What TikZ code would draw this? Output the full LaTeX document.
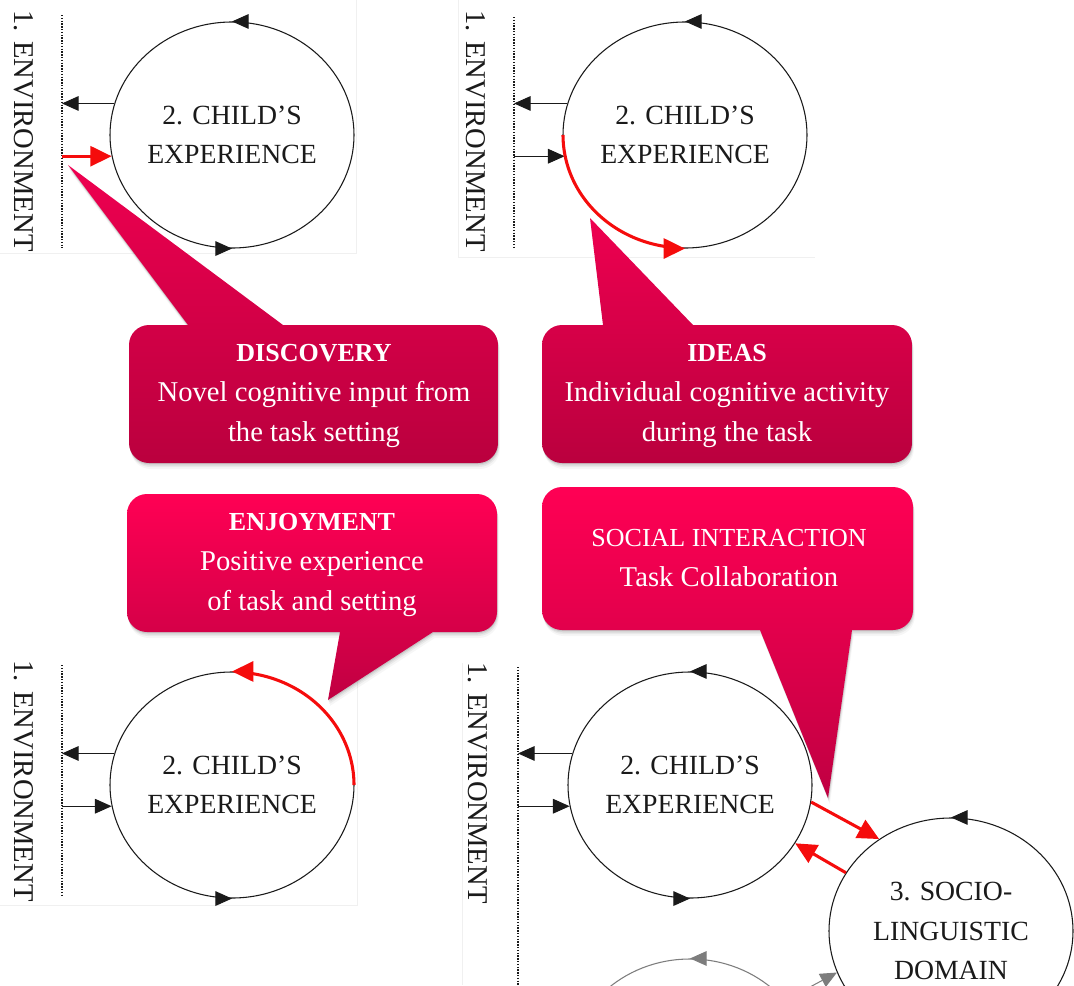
\documentclass[tikz,border=0pt]{standalone}
\usepackage{fontspec}
\setmainfont{Liberation Serif}
\usetikzlibrary{arrows.meta,shapes.geometric,calc}

\definecolor{ink}{RGB}{26,26,26}
\definecolor{hot}{RGB}{245,12,12}
\definecolor{fadeink}{RGB}{125,125,125}
\definecolor{plumtop}{RGB}{238,0,80}
\definecolor{plumbot}{RGB}{186,0,62}
\definecolor{rosetop}{RGB}{255,0,84}
\definecolor{rosebot}{RGB}{192,0,66}

% speech bubble outline: tail triangle plus rounded box
\newcommand\bubblepath[9]{(#5,#7) -- (#8,#9) -- (#6,#7) -- cycle [rounded corners=15pt] (#1,#2) rectangle (#3,#4)}
% soft shadow, then the shaded bubble
\newcommand\callout[9]{%
  \foreach \d/\o in {6/0.035,4/0.05,2.5/0.07,1.2/0.09}{%
    \fill[black,opacity=\o,shift={(0.3*\d,\d)}] \bubblepath{#1}{#2}{#3}{#4}{#5}{#6}{#7}{#8}{#9};}%
  \shade[bubble fill] \bubblepath{#1}{#2}{#3}{#4}{#5}{#6}{#7}{#8}{#9};}
\newcommand\bubblehead{\fontsize{19.5}{30}\selectfont\bfseries}

\tikzset{
  loop/.style={draw=ink, line width=0.8pt, ellipse, minimum width=183pt,
    minimum height=169.5pt, inner sep=0pt, align=center, text=ink,
    font=\fontsize{20.8}{29.3}\selectfont},
  ghostloop/.style={loop, draw=fadeink},
  envtext/.style={rotate=-90, text=ink, font=\fontsize{21.5}{26}\selectfont},
  envline/.style={draw=ink, line width=1pt, dash pattern=on 1pt off 1.1pt},
  blk/.style={draw=ink, line width=0.75pt, -{Triangle[length=12.5pt,width=11pt]}},
  ghost/.style={draw=fadeink, line width=0.75pt, -{Triangle[length=12.5pt,width=11pt]}, fill=fadeink},
  hotline/.style={draw=hot, line width=2.3pt},
  hotarrow/.style={hotline, -{Triangle[length=16pt,width=15pt]}},
  bubbletext/.style={text=white, align=center, font=\fontsize{21.5}{30}\selectfont},
  plum/.style={top color=plumtop, bottom color=plumbot},
  rose/.style={top color=rosetop, bottom color=rosebot},
  frame/.style={draw=black!6, line width=0.6pt},
}

\begin{document}
\begin{tikzpicture}[x=0.75pt,y=-0.75pt]
\useasboundingbox (0,0) rectangle (1074,985);
\clip (0,0) rectangle (1074,985);

% faint panel edges
\draw[frame] (356,0) -- (356,253) -- (0,253);
\draw[frame] (458,0) -- (458,257) -- (815,257);
\draw[frame] (357,655) -- (357,905) -- (0,905);
\draw[frame] (462,663) -- (462,985);

% ---------- panel 1: discovery ----------
\coordinate (e1) at (62,15);
\draw[envline] (e1) -- (62,248);
\node[envtext] (env1) at (24,131) {1. ENVIRONMENT};
\node[loop] (c1) at (232,135) {2. CHILD’S\\EXPERIENCE};
\draw[blk] ([xshift=8pt]c1.north) -- (c1.north);
\draw[blk] ([xshift=-8pt]c1.south) -- (c1.south);
\draw[blk] (c1.165) -- (c1.165 -| e1);
\draw[hotarrow] (c1.190 -| e1) -- (c1.190);

% ---------- panel 2: ideas ----------
\coordinate (e2) at (514,17);
\draw[envline] (e2) -- (514,248);
\node[envtext] (env2) at (476,131) {1. ENVIRONMENT};
\node[loop] (c2) at (685,135) {2. CHILD’S\\EXPERIENCE};
\draw[blk] ([xshift=8pt]c2.north) -- (c2.north);
\draw[blk] (c2.165) -- (c2.165 -| e2);
\draw[blk] (c2.190 -| e2) -- (c2.190);
\begin{scope}[shift={(c2.center)}]
  \draw[hotline] plot[domain=180:97,samples=60] ({122*cos(\x)},{113*sin(\x)});
\end{scope}
\draw[hotarrow] ([xshift=-2pt]c2.south) -- (c2.south);

% ---------- panel 3: enjoyment ----------
\coordinate (e3) at (62,665);
\draw[envline] (e3) -- (62,897);
\node[envtext] (env3) at (24,781) {1. ENVIRONMENT};
\node[loop] (c3) at (232,785) {2. CHILD’S\\EXPERIENCE};
\draw[blk] ([xshift=-8pt]c3.south) -- (c3.south);
\draw[blk] (c3.165) -- (c3.165 -| e3);
\draw[blk] (c3.190 -| e3) -- (c3.190);
\begin{scope}[shift={(c3.center)}]
  \draw[hotline] plot[domain=0:-83,samples=60] ({122*cos(\x)},{113*sin(\x)});
\end{scope}
\draw[hotarrow] ([xshift=2pt]c3.north) -- (c3.north);

% ---------- panel 4: social interaction ----------
\coordinate (e4) at (518,667);
\draw[envline] (e4) -- (518,990);
\node[envtext] (env4) at (478,783) {1. ENVIRONMENT};
\node[loop] (c4) at (690,785) {2. CHILD’S\\EXPERIENCE};
\draw[blk] ([xshift=8pt]c4.north) -- (c4.north);
\draw[blk] ([xshift=-8pt]c4.south) -- (c4.south);
\draw[blk] (c4.165) -- (c4.165 -| e4);
\draw[blk] (c4.190 -| e4) -- (c4.190);
\node[loop] (c5) at (951,931) {3. SOCIO-\\LINGUISTIC\\DOMAIN};
\draw[blk] ([xshift=8pt]c5.north) -- (c5.north);
\node[ghostloop] (c6) at (690,1072) {};
\draw[ghost] ([xshift=8pt]c6.north) -- (c6.north);
\draw[ghost] (c6.37) -- (c5.200);
\draw[hotarrow] (c4.352) -- (c5.128);
\draw[hotarrow] (c5.151) -- (c4.331);

% ---------- speech bubbles ----------
\tikzset{bubble fill/.style=plum}
\callout{129}{325}{498}{463}{188}{283}{325}{68}{165}
\callout{542}{325}{912}{463}{603}{693}{325}{590}{218}
\tikzset{bubble fill/.style=rose}
\callout{127}{494}{497}{632}{340}{433}{632}{328}{700}
\callout{542}{487}{913}{630}{760}{852}{630}{828}{798}

\node[bubbletext] (discovery) at (314,396) {{\bubblehead DISCOVERY}\\Novel cognitive input from\\the task setting};
\node[bubbletext] (ideas) at (727,396) {{\bubblehead IDEAS}\\Individual cognitive activity\\during the task};
\node[bubbletext] (enjoyment) at (312,565) {{\bubblehead ENJOYMENT}\\Positive experience\\of task and setting};
\node[bubbletext] (social) at (729,558) {{\fontsize{19.5}{30}\selectfont SOCIAL INTERACTION}\\Task Collaboration};
\end{tikzpicture}
\end{document}
